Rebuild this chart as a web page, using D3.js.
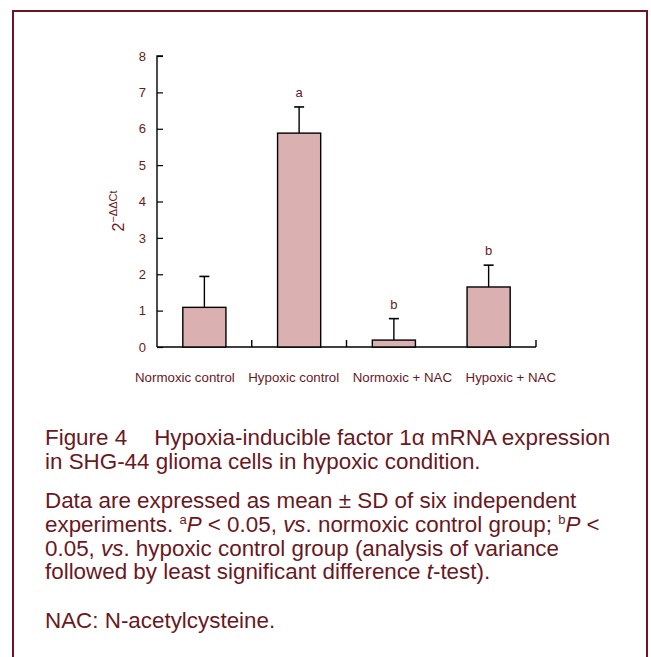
<!DOCTYPE html>
<html><head><meta charset="utf-8">
<script src="https://cdn.jsdelivr.net/npm/d3@7"></script>
<style>body{margin:0;background:#fff}svg{display:block}</style>
</head><body>
<svg id="c" width="651" height="657"></svg>
<script>
const categories = ["Normoxic control","Hypoxic control","Normoxic + NAC","Hypoxic + NAC"];
const means = [1.09, 5.88, 0.19, 1.65];
const sds = [0.85, 0.72, 0.59, 0.6];
const sigLetters = ["", "a", "b", "b"];
const yTicks = [0,1,2,3,4,5,6,7,8];

const textCol = "#6b1822";
const font = "Liberation Sans, Arial, sans-serif";
const svg = d3.select("#c");
svg.append("rect").attr("x",13).attr("y",11).attr("width",634).attr("height",660)
  .attr("fill","#fff").attr("stroke","#6e1423").attr("stroke-width",2);

const x0 = 157, x1 = 536, yTop = 56, yBot = 347;
const x = d3.scaleBand().domain(categories).range([x0,x1]).paddingInner(0.545).paddingOuter(0.2725);
const y = d3.scaleLinear().domain([0,8]).range([yBot,yTop]);

const g = svg.append("g");
// y axis
const ya = g.append("g").attr("transform",`translate(${x0},0)`)
  .call(d3.axisRight(y).tickValues(yTicks).tickSize(6).tickFormat(d3.format("d")));
ya.select(".domain").attr("stroke","#000").attr("stroke-width",1.4).attr("d",`M6,${yTop}H0V${yBot}`);
ya.selectAll(".tick line").attr("stroke","#000").attr("stroke-width",1.2);
ya.selectAll(".tick text").attr("x",-11).attr("text-anchor","end").attr("fill",textCol)
  .attr("font-family",font).attr("font-size",13);

// x axis baseline
const bandStep = x.step();
const xa = g.append("g").attr("transform",`translate(0,${yBot})`);
xa.append("line").attr("x1",x0).attr("x2",x1).attr("y1",0).attr("y2",0).attr("stroke","#000").attr("stroke-width",1.4);
// separator ticks (the reference shows them after the 1st, 2nd and 4th groups)
[categories[0],categories[1],categories[3]].forEach(c=>{
  const bx = x(c) + x.bandwidth() + x.paddingOuter()*bandStep;
  xa.append("line").attr("x1",bx).attr("x2",bx).attr("y1",0).attr("y2",-7).attr("stroke","#000").attr("stroke-width",1.4);
});

// bars
g.selectAll("rect.bar").data(categories).join("rect").attr("class","bar")
  .attr("x",d=>x(d)).attr("width",x.bandwidth())
  .attr("y",(d,i)=>y(means[i])).attr("height",(d,i)=>y(0)-y(means[i]))
  .attr("fill","#dbb0b0").attr("stroke","#000").attr("stroke-width",1.4);
// error bars + significance letters
categories.forEach((c,i)=>{
  const cx = x(c)+x.bandwidth()/2;
  g.append("line").attr("x1",cx).attr("x2",cx).attr("y1",y(means[i])).attr("y2",y(means[i]+sds[i])).attr("stroke","#000").attr("stroke-width",1.4);
  g.append("line").attr("x1",cx-5).attr("x2",cx+5).attr("y1",y(means[i]+sds[i])).attr("y2",y(means[i]+sds[i])).attr("stroke","#000").attr("stroke-width",1.6);
  if (sigLetters[i]) g.append("text").attr("x",cx).attr("y",y(means[i]+sds[i])-10).attr("text-anchor","middle")
    .attr("fill",textCol).attr("font-family",font).attr("font-size",13).text(sigLetters[i]);
});
// category labels laid out as one row (as in the reference)
let lx = 135;
categories.forEach(c=>{
  const t = g.append("text").attr("x",lx).attr("y",yBot+35).attr("fill",textCol)
    .attr("font-family",font).attr("font-size",13.3).text(c);
  lx += t.node().getComputedTextLength() + 13.5;
});

// y label
const yl = svg.append("text").attr("transform","translate(124,211) rotate(-90)").attr("text-anchor","middle")
  .attr("fill",textCol).attr("font-family",font);
yl.append("tspan").attr("font-size",16).text("2");
yl.append("tspan").attr("font-size",11).attr("dy",-7).text("\u2212\u0394\u0394Ct");

// caption
const cap = svg.append("g").attr("fill",textCol).attr("font-family",font).attr("font-size",22.4);
const lines = [
  {y:445, parts:[["Figure 4",""],["Hypoxia-inducible factor 1\u03b1 mRNA expression","gap"]]},
  {y:469, parts:[["in SHG-44 glioma cells in hypoxic condition.",""]]},
  {y:508, parts:[["Data are expressed as mean \u00b1 SD of six independent",""]]},
  {y:532, parts:[["experiments. ",""],["a","sup"],["P","i"],[" < 0.05, ",""],["vs","i"],[". normoxic control group; ",""],["b","sup"],["P","i"],[" <",""]]},
  {y:556, parts:[["0.05, ",""],["vs","i"],[". hypoxic control group (analysis of variance",""]]},
  {y:579, parts:[["followed by least significant difference ",""],["t","i"],["-test).",""]]},
  {y:628, parts:[["NAC: N-acetylcysteine.",""]]}
];
lines.forEach(L=>{
  const t = cap.append("text").attr("x",45).attr("y",L.y);
  let wasSup=false;
  L.parts.forEach(([s,k])=>{
    const ts = t.append("tspan").text(s);
    if (k==="sup"){ ts.attr("font-size",13).attr("dy",-8); wasSup=true; }
    else {
      if (wasSup){ ts.attr("dy",8); wasSup=false; }
      if (k==="i") ts.attr("font-style","italic");
      if (k==="gap") ts.attr("dx",27);
    }
  });
});
</script>
</body></html>
